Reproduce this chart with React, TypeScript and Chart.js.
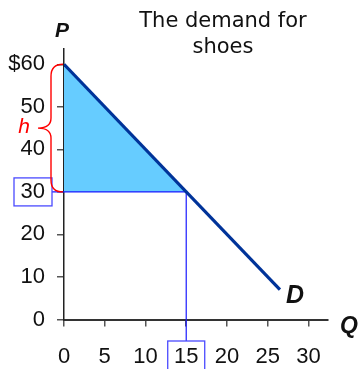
import React, { useEffect, useRef } from 'react';
import { Chart, registerables } from 'chart.js';

Chart.register(...registerables);

// ---- data ----
const demandQ = [0, 26.5];
const demandP = [60, 7];
const surplusQ = [0, 15];
const surplusP = [60, 30];
const marketQ = 15;
const marketP = 30;
const xTicks = [0, 5, 10, 15, 20, 25, 30];
const yTicks = [0, 10, 20, 30, 40, 50, 60];
const yTickLabels = ['0', '10', '20', '30', '40', '50', '$60'];
const titleLines = ['The demand for', 'shoes'];
const xAxisLabel = 'Q';
const yAxisLabel = 'P';
const curveLabel = 'D';
const heightLabel = 'h';

const SANS = '"Liberation Sans", Arial, sans-serif';

const overlay = {
  id: 'overlay',
  afterDatasetDraw(chart: any, args: any) {
    if (args.index !== 1) return;
    const { ctx, scales } = chart;
    const px = scales.x.getPixelForValue(marketQ);
    const py = scales.y.getPixelForValue(marketP);
    ctx.save();
    ctx.strokeStyle = '#1a1aff';
    ctx.lineWidth = 1.2;
    ctx.beginPath();
    ctx.moveTo(52, py);
    ctx.lineTo(px, py);
    ctx.lineTo(px, 341);
    ctx.stroke();
    ctx.restore();
  },
  afterDraw(chart: any) {
    const { ctx, scales } = chart;
    const px = scales.x.getPixelForValue(marketQ);
    const py = scales.y.getPixelForValue(marketP);
    const yTop = scales.y.getPixelForValue(surplusP[0]);
    const ax = scales.x.getPixelForValue(0);
    ctx.save();
    // boxes
    ctx.strokeStyle = '#4a4aff';
    ctx.lineWidth = 1.3;
    ctx.strokeRect(14, py - 14, 38, 28);
    ctx.strokeRect(px - 18.5, 341, 37, 40);
    // brace
    const mid = (yTop + py) / 2;
    const bx = ax - 13;
    const tip = ax - 26;
    ctx.strokeStyle = '#ff0000';
    ctx.lineWidth = 1.4;
    ctx.beginPath();
    ctx.moveTo(ax - 1, yTop);
    ctx.quadraticCurveTo(bx, yTop, bx, yTop + 12);
    ctx.lineTo(bx, mid - 10);
    ctx.quadraticCurveTo(bx, mid, tip, mid);
    ctx.quadraticCurveTo(bx, mid, bx, mid + 10);
    ctx.lineTo(bx, py - 12);
    ctx.quadraticCurveTo(bx, py, ax - 1, py);
    ctx.stroke();
    // h label
    ctx.fillStyle = '#ff0000';
    ctx.font = 'italic 21px ' + SANS;
    ctx.textAlign = 'center';
    ctx.textBaseline = 'alphabetic';
    ctx.fillText(heightLabel, 24, 133);
    // title
    ctx.fillStyle = '#111';
    ctx.font = '21px "DejaVu Sans", Verdana, sans-serif';
    ctx.fillText(titleLines[0], 223, 27);
    ctx.fillText(titleLines[1], 223, 53);
    // axis letters
    ctx.font = 'bold italic 21px ' + SANS;
    ctx.fillText(yAxisLabel, 62, 37);
    ctx.font = 'bold italic 23px ' + SANS;
    ctx.fillText(xAxisLabel, 349, 333);
    ctx.font = 'bold italic 25px ' + SANS;
    ctx.fillText(curveLabel, 295, 303);
    ctx.restore();
  },
};

export default function App() {
  const ref = useRef<HTMLCanvasElement | null>(null);
  useEffect(() => {
    if (!ref.current) return;
    const chart = new Chart(ref.current, {
      type: 'line',
      data: {
        datasets: [
          {
            data: demandQ.map((q, i) => ({ x: q, y: demandP[i] })),
            borderColor: '#003399',
            borderWidth: 3.2,
            pointRadius: 0,
            fill: false,
          },
          {
            data: surplusQ.map((q, i) => ({ x: q, y: surplusP[i] })),
            borderWidth: 0,
            borderColor: 'rgba(0,0,0,0)',
            backgroundColor: '#66ccff',
            pointRadius: 0,
            fill: { value: marketP },
          },
        ],
      },
      options: {
        animation: false,
        responsive: true,
        maintainAspectRatio: false,
        layout: { padding: { top: 49, right: 32, left: 0, bottom: 0 } },
        plugins: { legend: { display: false }, tooltip: { enabled: false }, title: { display: false } },
        scales: {
          x: {
            type: 'linear',
            min: 0,
            max: 32.4,
            afterBuildTicks: (s: any) => {
              s.ticks = xTicks.map((v) => ({ value: v }));
            },
            afterFit: (s: any) => {
              s.height = 49.5;
              s.paddingLeft = 0;
              s.paddingRight = 0;
            },
            grid: { display: true, drawOnChartArea: false, drawTicks: true, tickLength: 7, color: '#555', lineWidth: 1.5 },
            border: { display: true, color: '#333', width: 2 },
            ticks: {
              font: { family: SANS, size: 22 },
              color: '#111',
              padding: 17,
              maxRotation: 0,
              autoSkip: false,
            },
          },
          y: {
            type: 'linear',
            min: 0,
            max: 63.6,
            afterBuildTicks: (s: any) => {
              s.ticks = yTicks.map((v) => ({ value: v }));
            },
            afterFit: (s: any) => {
              s.width = 64;
              s.paddingTop = 0;
              s.paddingBottom = 0;
            },
            grid: { display: true, drawOnChartArea: false, drawTicks: true, tickLength: 7, color: '#555', lineWidth: 1.5 },
            border: { display: true, color: '#222', width: 1.5 },
            ticks: {
              font: { family: SANS, size: 22 },
              color: '#111',
              padding: 12,
              autoSkip: false,
              callback: (v: any) => {
                const i = yTicks.indexOf(Number(v));
                return i >= 0 ? yTickLabels[i] : '';
              },
            },
          },
        },
      },
      plugins: [overlay],
    });
    return () => chart.destroy();
  }, []);
  return (
    <div style={{ position: 'fixed', left: 0, top: 0, width: 360, height: 369, background: '#fff' }}>
      <canvas ref={ref} />
    </div>
  );
}
